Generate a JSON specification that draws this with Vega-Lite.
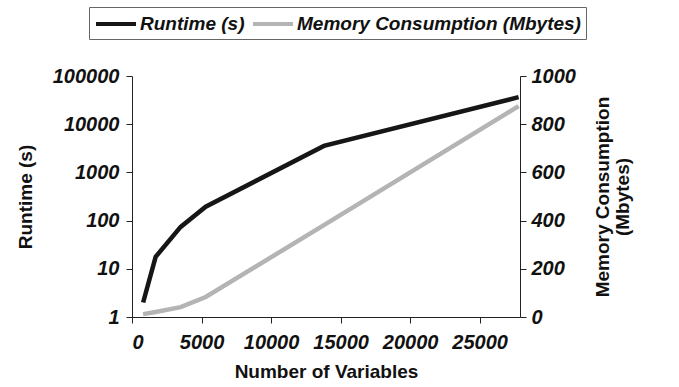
{
  "$schema": "https://vega.github.io/schema/vega-lite/v6.json",
  "width": 388,
  "height": 241,
  "autosize": {"type": "none"},
  "padding": {"left": 132, "top": 76, "right": 159, "bottom": 70},
  "background": "white",
  "config": {
    "view": {"stroke": null},
    "font": "Liberation Sans",
    "axis": {
      "grid": false,
      "domainColor": "#222",
      "domainWidth": 1,
      "tickColor": "#222",
      "tickSize": 6,
      "labelFont": "Liberation Sans",
      "labelFontSize": 20,
      "labelFontWeight": "bold",
      "labelFontStyle": "italic",
      "labelColor": "#111",
      "titleFont": "Liberation Sans",
      "titleFontSize": 19,
      "titleFontWeight": "bold",
      "titleColor": "#111"
    }
  },
  "data": {
    "values": [
      {"vars": 800, "runtime": 2, "memory": 12},
      {"vars": 1700, "runtime": 17.7, "memory": 21},
      {"vars": 3500, "runtime": 74, "memory": 41},
      {"vars": 5300, "runtime": 194, "memory": 83},
      {"vars": 13800, "runtime": 3540, "memory": 381},
      {"vars": 27800, "runtime": 36400, "memory": 875}
    ]
  },
  "layer": [
    {
      "mark": {"type": "line", "strokeWidth": 4.5, "strokeCap": "butt"},
      "encoding": {
        "x": {
          "field": "vars",
          "type": "quantitative",
          "scale": {"domain": [0, 27900], "nice": false},
          "axis": {"values": [0, 5000, 10000, 15000, 20000, 25000], "format": "d", "title": "Number of Variables", "labelPadding": 9, "titlePadding": 10}
        },
        "y": {
          "field": "runtime",
          "type": "quantitative",
          "scale": {"type": "log", "domain": [1, 100000], "nice": false},
          "axis": {"orient": "left", "values": [1, 10, 100, 1000, 10000, 100000], "format": "d", "title": "Runtime (s)", "labelPadding": 7, "titlePadding": 17}
        },
        "color": {
          "datum": "Runtime (s)",
          "type": "nominal",
          "scale": {"domain": ["Runtime (s)", "Memory Consumption (Mbytes)"], "range": ["#161616", "#b4b4b4"]},
          "legend": {
            "title": null,
            "orient": "none",
            "legendX": -43,
            "legendY": -69,
            "direction": "horizontal",
            "symbolType": "M-1,0H3",
            "symbolSize": 400,
            "symbolStrokeWidth": 4,
            "labelFont": "Liberation Sans",
            "labelFontSize": 19,
            "labelFontWeight": "bold",
            "labelFontStyle": "italic",
            "labelColor": "#111",
            "labelOffset": 22,
            "columnPadding": 0,
            "labelLimit": 400,
            "padding": 5,
            "strokeColor": "#666",
            "fillColor": "white"
          }
        }
      }
    },
    {
      "mark": {"type": "line", "strokeWidth": 4.5, "strokeCap": "butt"},
      "encoding": {
        "x": {"field": "vars", "type": "quantitative"},
        "y": {
          "field": "memory",
          "type": "quantitative",
          "scale": {"domain": [0, 1000], "nice": false},
          "axis": {"orient": "right", "values": [0, 200, 400, 600, 800, 1000], "format": "d", "title": ["Memory Consumption", "(Mbytes)"], "titleAngle": -90, "titleLineHeight": 20, "labelPadding": 5, "titlePadding": 17}
        },
        "color": {"datum": "Memory Consumption (Mbytes)", "type": "nominal"}
      }
    }
  ],
  "resolve": {"scale": {"y": "independent"}}
}
